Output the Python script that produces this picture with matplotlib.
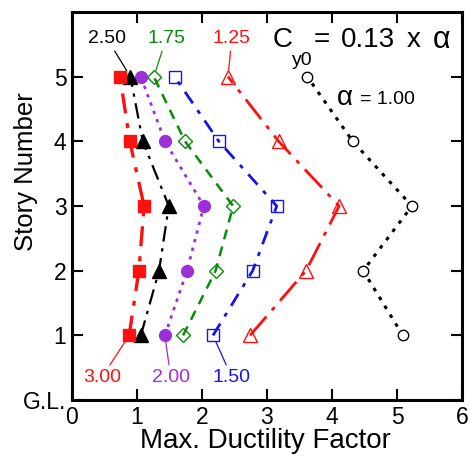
import matplotlib
matplotlib.use("Agg")
import matplotlib.pyplot as plt

plt.rcParams['font.family'] = ['Liberation Sans', 'DejaVu Sans']

stories = [1, 2, 3, 4, 5]
alphas = ["1.00", "1.25", "1.50", "1.75", "2.00", "2.50", "3.00"]

# max ductility factor per story (stories 1..5) for each alpha
mu_100 = [5.09, 4.48, 5.23, 4.32, 3.62]
mu_125 = [2.74, 3.60, 4.11, 3.18, 2.40]
mu_150 = [2.17, 2.78, 3.15, 2.26, 1.58]
mu_175 = [1.71, 2.21, 2.48, 1.74, 1.26]
mu_200 = [1.43, 1.77, 2.03, 1.43, 1.06]
mu_250 = [1.06, 1.34, 1.49, 1.09, 0.90]
mu_300 = [0.88, 1.03, 1.11, 0.89, 0.74]

xticks = [0, 1, 2, 3, 4, 5, 6]
yticks = [0, 1, 2, 3, 4, 5]
ytick_labels = ["G.L.", "1", "2", "3", "4", "5"]

fig = plt.figure(figsize=(4.7, 4.62), dpi=100)
ax = fig.add_axes([0.153, 0.134, 0.830, 0.840])

purple = "#9b30d9"
green = "#0a8a0a"
blue = "#1515e6"
red = "#ff1010"

ax.plot(mu_100, stories, color="black", ls=(0, (1.2, 2.2)), lw=2.2,
        marker="o", ms=7.5, mfc="white", mec="black", mew=1.0)
ax.plot(mu_125, stories, color=red, ls=(0, (9, 3, 1.5, 3)), lw=2.0,
        marker="^", ms=10, mfc="none", mec=red, mew=1.0)
ax.plot(mu_150, stories, color=blue, ls=(0, (5, 3, 1.5, 3)), lw=2.0,
        marker="s", ms=8.5, mfc="none", mec=blue, mew=1.0)
ax.plot(mu_175, stories, color=green, ls=(0, (4, 3)), lw=1.8,
        marker="D", ms=7.5, mfc="none", mec=green, mew=1.0)
ax.plot(mu_200, stories, color=purple, ls=(0, (1.2, 2)), lw=2.0,
        marker="o", ms=8.5, mfc=purple, mec=purple)
ax.plot(mu_250, stories, color="black", ls=(0, (7, 3, 1.5, 3)), lw=1.6,
        marker="^", ms=10, mfc="black", mec="black")
ax.plot(mu_300, stories, color=red, ls=(0, (6, 3, 1.5, 3)), lw=2.4,
        marker="s", ms=9, mfc=red, mec=red)

ax.set_xlim(0, 6)
ax.set_ylim(0, 6)
ax.set_xticks(xticks)
ax.set_yticks(yticks)
ax.set_yticklabels(ytick_labels)
ax.tick_params(direction="in", length=8, width=1.5, labelsize=16.5,
               top=True, right=True, pad=4)
for s in ax.spines.values():
    s.set_linewidth(2.2)

ax.set_xlabel("Max. Ductility Factor", fontsize=20)
ax.set_ylabel("Story Number", fontsize=18.5)
ax.xaxis.set_label_coords(0.497, -0.072)
ax.yaxis.set_label_coords(-0.088, 0.588)

lp = dict(arrowstyle="-", lw=0.9, shrinkA=1, shrinkB=5)
ann_fs = 14
ax.annotate("2.50", xy=(mu_250[4], 5), xytext=(0.54, 5.59), fontsize=ann_fs,
            color="black", ha="center", va="center",
            arrowprops=dict(lp, color="black"))
ax.annotate("1.75", xy=(mu_175[4], 5), xytext=(1.45, 5.59), fontsize=ann_fs,
            color=green, ha="center", va="center",
            arrowprops=dict(lp, color=green))
ax.annotate("1.25", xy=(mu_125[4], 5), xytext=(2.46, 5.59), fontsize=ann_fs,
            color=red, ha="center", va="center",
            arrowprops=dict(lp, color=red))
ax.annotate("3.00", xy=(mu_300[0], 1), xytext=(0.46, 0.35), fontsize=ann_fs,
            color=red, ha="center", va="center",
            arrowprops=dict(lp, color=red))
ax.annotate("2.00", xy=(mu_200[0], 1), xytext=(1.52, 0.35), fontsize=ann_fs,
            color=purple, ha="center", va="center",
            arrowprops=dict(lp, color=purple))
ax.annotate("1.50", xy=(mu_150[0], 1), xytext=(2.46, 0.35), fontsize=ann_fs,
            color=blue, ha="center", va="center",
            arrowprops=dict(lp, color=blue))

ax.text(4.08, 4.67, "α", fontsize=20, ha="left", va="center")
ax.text(4.43, 4.64, "= 1.00", fontsize=14, ha="left", va="center")

# equation in the upper right: C_y0 = 0.13 x alpha
eq_y = 5.57
eq_fs = 20
ax.text(3.09, eq_y, "C", fontsize=eq_fs, ha="left", va="center")
ax.text(3.38, 5.25, "y0", fontsize=14, ha="left", va="center")
ax.text(3.72, eq_y, "=", fontsize=eq_fs, ha="left", va="center")
ax.text(4.14, eq_y, "0.13", fontsize=eq_fs, ha="left", va="center")
ax.text(5.15, eq_y, "x", fontsize=eq_fs, ha="left", va="center")
ax.text(5.55, eq_y, "α", fontsize=eq_fs + 2, ha="left", va="center")

fig.savefig("out.png", dpi=100)
